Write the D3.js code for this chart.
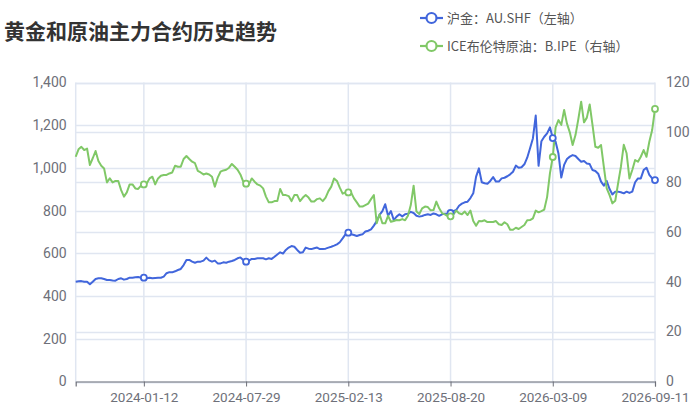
<!DOCTYPE html>
<html><head><meta charset="utf-8">
<script src="https://cdn.jsdelivr.net/npm/d3@7/dist/d3.min.js"></script>
<style>
html,body{margin:0;padding:0;background:#fff;}
svg text{font-family:"Noto Sans CJK SC","Noto Sans",sans-serif;}
svg .tick text{font-family:Roboto,"Noto Sans",sans-serif;}
</style></head>
<body><svg id="c" width="700" height="410"></svg>
<script>
const title = "黄金和原油主力合约历史趋势";
const seriesNames = ["沪金：AU.SHF（左轴）", "ICE布伦特原油：B.IPE（右轴）"];
const xLabels = ["2024-01-12","2024-07-29","2025-02-13","2025-08-20","2026-03-09","2026-09-11"];
const labelIndex = [24, 60, 96, 132, 168, 204];
const leftTicks = [0,200,400,600,800,1000,1200,1400];
const rightTicks = [0,20,40,60,80,100,120];
const gold = [467,469,470,467,467,455,467,480,483,483,480,475,475,473,472,480,483,477,480,486,
486,488,489,486,486,483,486,483,485,486,486,491,507,512,511,516,522,527,545,569,
569,561,556,561,561,566,580,567,561,566,553,553,558,556,561,564,569,577,581,569,
561,566,574,574,577,577,577,572,577,574,584,595,605,599,616,627,634,631,616,603,
605,627,622,620,624,627,620,620,622,627,631,636,642,652,670,689,697,689,686,681,
686,689,702,706,712,730,751,780,798,830,776,798,756,772,783,773,783,786,794,789,
776,772,775,780,783,780,787,783,776,783,786,787,789,798,803,823,833,839,842,859,
881,959,998,933,928,926,939,957,936,936,951,954,961,970,982,1011,1001,1003,1017,1048,
1092,1138,1245,1010,1125,1146,1162,1190,1140,1123,1068,955,1014,1042,1053,1060,1056,1042,1029,1032,
1021,1018,990,986,973,936,917,939,901,876,889,889,886,881,889,883,889,933,951,951,
990,1001,967,951,943];
const oil = [90.2,93.2,94.2,92.9,93.5,86.9,89.6,92.5,88.5,86.6,85.5,79.9,81.5,79.9,80.5,80.5,76.8,74.2,75.9,79.1,
79.1,77.5,77.3,78.6,79.1,79.5,81.5,82.2,79.1,81.5,82.6,82.9,82.9,83.5,83.9,86.6,86.2,86.2,89.3,90.5,
89.3,88.2,87.6,84.5,83.9,83.1,83.5,83.1,82.2,78.2,81.8,84.2,84.7,85.0,85.8,87.3,86.2,85.0,83.1,80.2,
79.4,79.1,81.5,80.2,79.1,78.6,77.5,74.2,71.9,71.9,72.4,72.4,77.3,74.8,74.8,74.4,72.4,74.8,74.8,72.4,
73.8,74.8,73.8,72.2,72.2,73.2,73.5,72.4,73.8,76.4,78.2,81.5,80.5,77.8,75.4,75.9,75.9,75.8,73.5,71.9,
70.2,70.2,70.8,71.4,73.2,74.8,63.5,67.1,63.5,63.5,66.5,64.1,64.4,64.8,64.7,65.2,64.7,66.5,70.8,78.6,
68.2,67.2,69.5,70.2,70.0,68.7,68.8,72.2,69.5,67.6,67.1,66.3,66.3,67.1,68.6,67.5,67.1,68.2,66.8,68.6,
64.4,62.5,64.4,64.3,64.7,64.0,64.0,64.0,64.4,63.1,62.8,63.9,63.1,60.9,60.9,61.7,61.2,62.0,62.8,64.7,
64.8,65.5,68.6,67.9,68.4,69.0,74.0,83.5,90.1,102.0,104.9,103.0,109.0,103.5,100.0,94.9,98.9,105.3,112.3,104.0,
105.9,111.2,102.9,94.2,93.8,94.9,86.0,77.5,74.8,71.5,72.5,79.5,86.2,95.0,91.6,81.5,84.9,88.9,88.2,90.2,
92.9,90.2,96.2,100.9,109.4];

const colors = ["#4166dc", "#80c867"];
const svg = d3.select("#c");
const L = 75.7, R = 655, T = 82.5, B = 381.5;
const n = gold.length;
const x = d3.scaleLinear().domain([0, n - 1]).range([L, R]);
const yL = d3.scaleLinear().domain([0, 1400]).range([B, T]);
const yR = d3.scaleLinear().domain([0, 120]).range([B, T]);
const gridColor = "#e0e6f1";

// gridlines
const g = svg.append("g");
g.selectAll(".gl").data(leftTicks).join("line")
  .attr("x1", L).attr("x2", R).attr("y1", d => Math.round(yL(d)) + 0.5).attr("y2", d => Math.round(yL(d)) + 0.5)
  .attr("stroke", gridColor).attr("stroke-width", 1.5);
g.selectAll(".gr").data(rightTicks).join("line")
  .attr("x1", L).attr("x2", R).attr("y1", d => Math.round(yR(d)) + 0.5).attr("y2", d => Math.round(yR(d)) + 0.5)
  .attr("stroke", gridColor).attr("stroke-width", 1.5);
g.selectAll(".gv").data([0].concat(labelIndex)).join("line")
  .attr("x1", d => x(d)).attr("x2", d => x(d)).attr("y1", T).attr("y2", B)
  .attr("stroke", gridColor).attr("stroke-width", 1.5);

// axes
const axisColor = "#6e7079";
const ax = svg.append("g").attr("transform", `translate(${L},0)`)
  .call(d3.axisLeft(yL).tickValues(leftTicks).tickSize(0).tickPadding(9).tickFormat(d3.format(",")));
ax.select(".domain").remove();
const ar = svg.append("g").attr("transform", `translate(${R},0)`)
  .call(d3.axisRight(yR).tickValues(rightTicks).tickSize(0).tickPadding(11));
ar.select(".domain").remove();
ar.selectAll(".tick text").attr("dy", "0.3em");
const ab = svg.append("g").attr("transform", `translate(0,${B})`)
  .call(d3.axisBottom(x).tickValues(labelIndex).tickSize(5).tickPadding(6).tickFormat((d, i) => xLabels[i]));
ab.select(".domain").attr("stroke", axisColor).attr("stroke-width", 1.2);
ab.selectAll(".tick line").attr("stroke", axisColor);
svg.selectAll(".tick text").attr("fill", "#6e7079").style("font-size", "14px");
ab.selectAll(".tick text").style("font-size", "13.5px");

// lines
const lineL = d3.line().x((d, i) => x(i)).y(d => yL(d));
const lineR = d3.line().x((d, i) => x(i)).y(d => yR(d));
svg.append("path").datum(gold).attr("d", lineL).attr("fill", "none")
  .attr("stroke", colors[0]).attr("stroke-width", 2).attr("stroke-linejoin", "round");
svg.append("path").datum(oil).attr("d", lineR).attr("fill", "none")
  .attr("stroke", colors[1]).attr("stroke-width", 2).attr("stroke-linejoin", "round");

// symbols at label indices
svg.selectAll(".sg").data(labelIndex).join("circle")
  .attr("cx", d => x(d)).attr("cy", d => yL(gold[d])).attr("r", 3)
  .attr("fill", "#fff").attr("stroke", colors[0]).attr("stroke-width", 1.8);
svg.selectAll(".so").data(labelIndex).join("circle")
  .attr("cx", d => x(d)).attr("cy", d => yR(oil[d])).attr("r", 3)
  .attr("fill", "#fff").attr("stroke", colors[1]).attr("stroke-width", 1.8);

// title
svg.append("text").attr("x", 4).attr("y", 39).text(title)
  .style("font-size", "21px").style("font-weight", "bold").attr("fill", "#333");

// legend
const lg = svg.append("g").selectAll("g").data(seriesNames).join("g")
  .attr("transform", (d, i) => `translate(420,${18 + i * 28})`);
lg.append("line").attr("x1", 0).attr("x2", 23).attr("y1", 0).attr("y2", 0)
  .attr("stroke", (d, i) => colors[i]).attr("stroke-width", 2.2);
lg.append("circle").attr("cx", 11.5).attr("cy", 0).attr("r", 5)
  .attr("fill", "#fff").attr("stroke", (d, i) => colors[i]).attr("stroke-width", 2.2);
lg.append("text").attr("x", 27).attr("y", 0).attr("dy", "0.35em").text(d => d)
  .style("font-size", "13px").attr("fill", "#555");
</script></body></html>
